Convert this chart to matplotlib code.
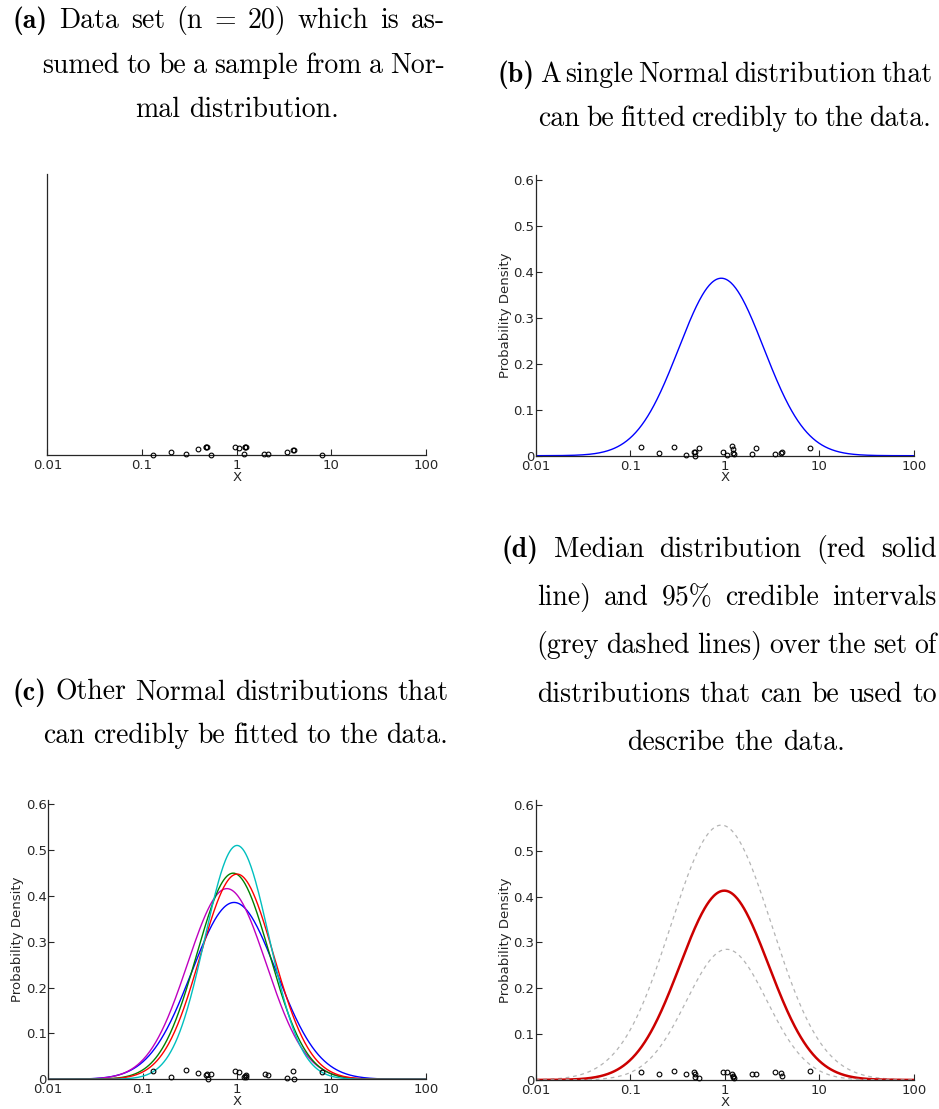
"""Four panels: a data set on a log axis and Normal distributions fitted to it."""
import matplotlib
matplotlib.use('Agg')
import matplotlib.pyplot as plt
import numpy as np

# observed data (x) and the small vertical offsets of the markers in each panel
data_x = [0.13, 0.20, 0.29, 0.39, 0.47, 0.48, 0.49, 0.53, 0.95, 1.06,
          1.19, 1.21, 1.23, 1.25, 1.96, 2.14, 3.38, 3.92, 4.05, 7.9]
jitter_a = [0.000, 0.006, 0.002, 0.014, 0.017, 0.018, 0.017, 0.000, 0.017, 0.015,
            0.002, 0.017, 0.018, 0.017, 0.002, 0.002, 0.007, 0.012, 0.011, 0.000]
jitter_b = [0.018, 0.005, 0.019, 0.002, 0.007, 0.009, 0.000, 0.017, 0.009, 0.001,
            0.020, 0.014, 0.005, 0.004, 0.003, 0.017, 0.004, 0.005, 0.009, 0.016]
jitter_c = [0.018, 0.004, 0.020, 0.014, 0.009, 0.012, 0.001, 0.012, 0.018, 0.015,
            0.006, 0.007, 0.004, 0.009, 0.011, 0.009, 0.002, 0.019, 0.001, 0.015]
jitter_d = [0.017, 0.013, 0.020, 0.013, 0.017, 0.012, 0.007, 0.005, 0.018, 0.017,
            0.012, 0.009, 0.007, 0.005, 0.014, 0.012, 0.017, 0.016, 0.008, 0.020]

# panel b: single fitted Normal (median on x, sigma in ln units)
fit_b_median = 0.92
fit_b_sigma = 1.034

# panel c: other credible Normals
c_colors = ['#0000ff', '#bf00bf', '#008000', '#ff0000', '#00bfbf']
c_medians = [0.93, 0.78, 0.91, 1.00, 1.00]
c_sigmas = [1.034, 0.959, 0.887, 0.891, 0.782]

# panel d: upper 95%, median, lower 95% curves (peak height, mode, width)
d_peaks = [0.556, 0.413, 0.285]
d_modes = [0.92, 0.99, 1.05]
d_widths = [1.23, 1.08, 0.98]

xticks = [0.01, 0.1, 1, 10, 100]
xticklabels = ['0.01', '0.1', '1', '10', '100']
yticks = [0, 0.1, 0.2, 0.3, 0.4, 0.5, 0.6]
yticklabels = ['0', '0.1', '0.2', '0.3', '0.4', '0.5', '0.6']

W, H = 939, 1109
AX_COLOR = '#262626'
CAP_SIZE = 20.0
grid = np.logspace(-2, 2, 500)


def normal_pdf(x, median, sigma):
    z = (np.log(x) - np.log(median)) / sigma
    return np.exp(-0.5 * z ** 2) / (sigma * np.sqrt(2 * np.pi))


def bump(x, peak, mode, width):
    z = (np.log(x) - np.log(mode)) / width
    return peak * np.exp(-0.5 * z ** 2)


def setup_axes(rect, with_y=True):
    ax = fig.add_axes(rect)
    ax.set_xscale('log')
    ax.set_xlim(0.01, 100)
    ax.set_ylim(0, 0.61)
    for side in ['top', 'right']:
        ax.spines[side].set_visible(False)
    for side in ['left', 'bottom']:
        ax.spines[side].set_color(AX_COLOR)
        ax.spines[side].set_linewidth(0.9)
    ax.set_xticks(xticks)
    ax.set_xticklabels(xticklabels)
    ax.minorticks_off()
    ax.tick_params(direction='in', length=4, pad=3, labelsize=9.5,
                   color=AX_COLOR, labelcolor=AX_COLOR, width=0.8)
    ax.set_xlabel('X', fontsize=9.5, labelpad=-1, color=AX_COLOR)
    if with_y:
        ax.set_yticks(yticks)
        ax.set_yticklabels(yticklabels)
        ax.tick_params(axis='y', pad=1)
        ax.set_ylabel('Probability Density', fontsize=9.5, labelpad=1, color=AX_COLOR)
    else:
        ax.set_yticks([])
    ax.patch.set_alpha(0)
    return ax


def draw_points(ax, jitter):
    ax.plot(data_x, jitter, 'o', ms=3.4, mfc='none', mec='black', mew=0.8,
            clip_on=False, zorder=5)


def px(x, y):
    return x / W, 1 - y / H


def justified(words, x0, x1, y, bold_first=True, size=CAP_SIZE):
    renderer = fig.canvas.get_renderer()
    texts = []
    for i, w in enumerate(words):
        fam = 'cmb10' if (bold_first and i == 0) else 'cmr10'
        t = fig.text(0, 0, w, fontsize=size, family=fam, va='baseline', ha='left')
        texts.append(t)
    widths = [t.get_window_extent(renderer).width for t in texts]
    gap = (x1 - x0 - sum(widths)) / max(len(words) - 1, 1)
    x = x0
    for t, w in zip(texts, widths):
        t.set_position(px(x, y))
        x += w + gap


def centered(line, xc, y, size=CAP_SIZE):
    # draw word by word so that no space glyph from cmr10 is needed
    renderer = fig.canvas.get_renderer()
    words = line.split()
    texts = [fig.text(0, 0, w, fontsize=size, family='cmr10', va='baseline')
             for w in words]
    widths = [t.get_window_extent(renderer).width for t in texts]
    gap = 0.36 * size * 100 / 72
    total = sum(widths) + gap * (len(words) - 1)
    x = xc - total / 2
    for t, w in zip(texts, widths):
        t.set_position(px(x, y))
        x += w + gap


fig = plt.figure(figsize=(W / 100, H / 100), dpi=100)

# (a) data only
ax_a = setup_axes([0.0504, 0.5897, 0.4033, 0.2530], with_y=False)
draw_points(ax_a, jitter_a)

# (b) single fitted distribution
ax_b = setup_axes([0.5705, 0.5891, 0.4026, 0.2530])
ax_b.plot(grid, normal_pdf(grid, fit_b_median, fit_b_sigma), color='#0000ff', lw=1.0)
draw_points(ax_b, jitter_b)

# (c) several credible distributions
ax_c = setup_axes([0.0514, 0.0268, 0.4021, 0.2521])
for col, med, sig in zip(c_colors, c_medians, c_sigmas):
    ax_c.plot(grid, normal_pdf(grid, med, sig), color=col, lw=1.0)
draw_points(ax_c, jitter_c)

# (d) median and 95% credible intervals
ax_d = setup_axes([0.5705, 0.0262, 0.4026, 0.2521])
styles = [dict(color='#b4b4b4', lw=0.9, ls=(0, (3, 3))),
          dict(color='#cc0000', lw=1.8, ls='-'),
          dict(color='#b4b4b4', lw=0.9, ls=(0, (3, 3)))]
for peak, mode, width, st in zip(d_peaks, d_modes, d_widths, styles):
    ax_d.plot(grid, bump(grid, peak, mode, width), **st)
draw_points(ax_d, jitter_d)

# captions
justified('(a) Data set (n = 20) which is as-'.split(), 12.7, 445, 28.3)
justified('sumed to be a sample from a Nor-'.split(), 41.7, 445, 72.7, bold_first=False)
centered('mal distribution.', 237, 116.7)

justified('(b) A single Normal distribution that'.split(), 498, 932, 82)
justified('can be fitted credibly to the data.'.split(), 538.3, 930.7, 126, bold_first=False)

justified('(c) Other Normal distributions that'.split(), 12.7, 448, 700)
justified('can credibly be fitted to the data.'.split(), 43.3, 448, 743.3, bold_first=False)

justified('(d) Median distribution (red solid'.split(), 501.7, 936.7, 556.7)
justified('line) and 95% credible intervals'.split(), 536.7, 936.7, 605, bold_first=False)
justified('(grey dashed lines) over the set of'.split(), 536.7, 936.7, 653.3, bold_first=False)
justified('distributions that can be used to'.split(), 536.7, 936.7, 701.7, bold_first=False)
centered('describe the data.', 736, 750)

fig.savefig('out.png', dpi=100)
